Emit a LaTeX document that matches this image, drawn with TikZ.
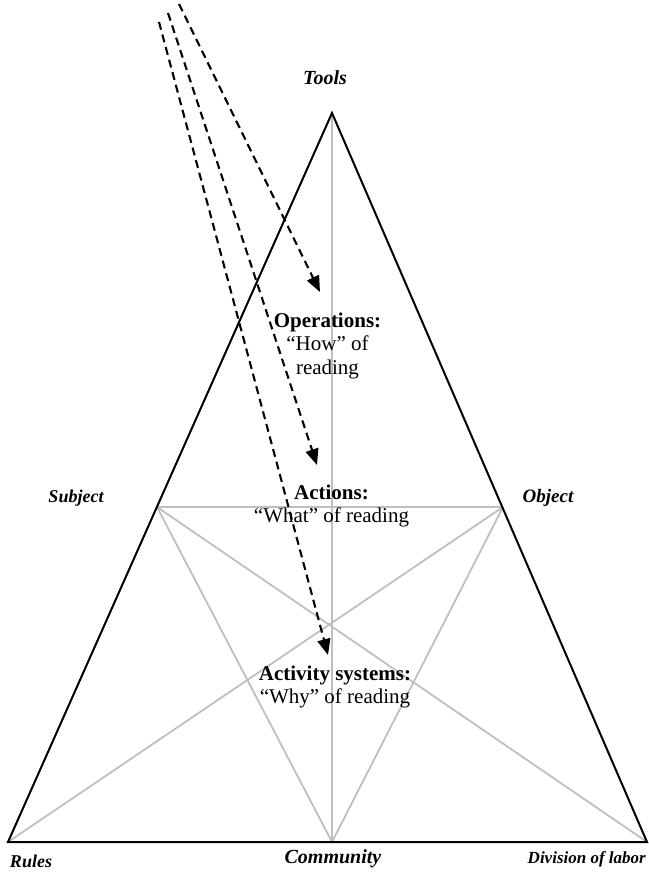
\documentclass[tikz,border=0pt]{standalone}
\usepackage{fontspec}
\setmainfont{Liberation Serif}
\usetikzlibrary{arrows.meta}
\begin{document}
\begin{tikzpicture}[x=1pt,y=-1pt,
  outer/.style={line width=2pt, black, line join=miter},
  inner/.style={line width=1.8pt, color=black!25},
  pointer/.style={line width=2.1pt, dash pattern=on 8pt off 5pt,
    -{Triangle[length=16pt,width=13pt]}},
  corner/.style={font=\fontsize{#1}{#1}\selectfont\bfseries\itshape,
    inner sep=0pt, anchor=base},
  corner/.default=19,
  level/.style={font=\fontsize{21}{23.5}\selectfont, align=center,
    inner sep=0pt, anchor=base}
]
\useasboundingbox (0,0) rectangle (648,886);

% corners of the triangle and the points on its sides
\coordinate (T) at (332,113);
\coordinate (L) at (8,842);
\coordinate (R) at (647,842);
\coordinate (S) at (157,507);
\coordinate (O) at (503,507);
\coordinate (C) at (332,842);

% inner grey lines
\draw[inner] (S) -- (O);
\draw[inner] (S) -- (C);
\draw[inner] (S) -- (R);
\draw[inner] (O) -- (L);
\draw[inner] (O) -- (C);
\draw[inner] (T) -- (C);

% outer triangle
\draw[outer] (T) -- (L) -- (R) -- cycle;

% corner labels
\node[corner=20] (tools) at (325,84) {Tools};
\node[corner=18] (subject) at (76,502) {Subject};
\node[corner=19] (object) at (548,502) {Object};
\node[corner=18] (rules) at (31,867) {Rules};
\node[corner=20] (community) at (333,863) {Community};
\node[corner=17, anchor=base east] (division) at (646,863) {Division of labor};

% levels of activity (anchored at the baseline of their last line)
\node[level] (ops) at (327.5,374) {\textbf{Operations:}\\“How” of\\reading};
\node[level] (acts) at (331.5,522.5) {\textbf{Actions:}\\“What” of reading};
\node[level] (acsys) at (335,703.5) {\textbf{Activity systems:}\\“Why” of reading};

% dashed pointers
\coordinate (p1s) at (179,4);
\coordinate (p1e) at (320,292);
\coordinate (p2s) at (168,13);
\coordinate (p2e) at (317,465);
\coordinate (p3s) at (159,22);
\coordinate (p3e) at (328,655);
\draw[pointer] (p1s) -- (p1e);
\draw[pointer] (p2s) -- (p2e);
\draw[pointer] (p3s) -- (p3e);
\end{tikzpicture}
\end{document}
